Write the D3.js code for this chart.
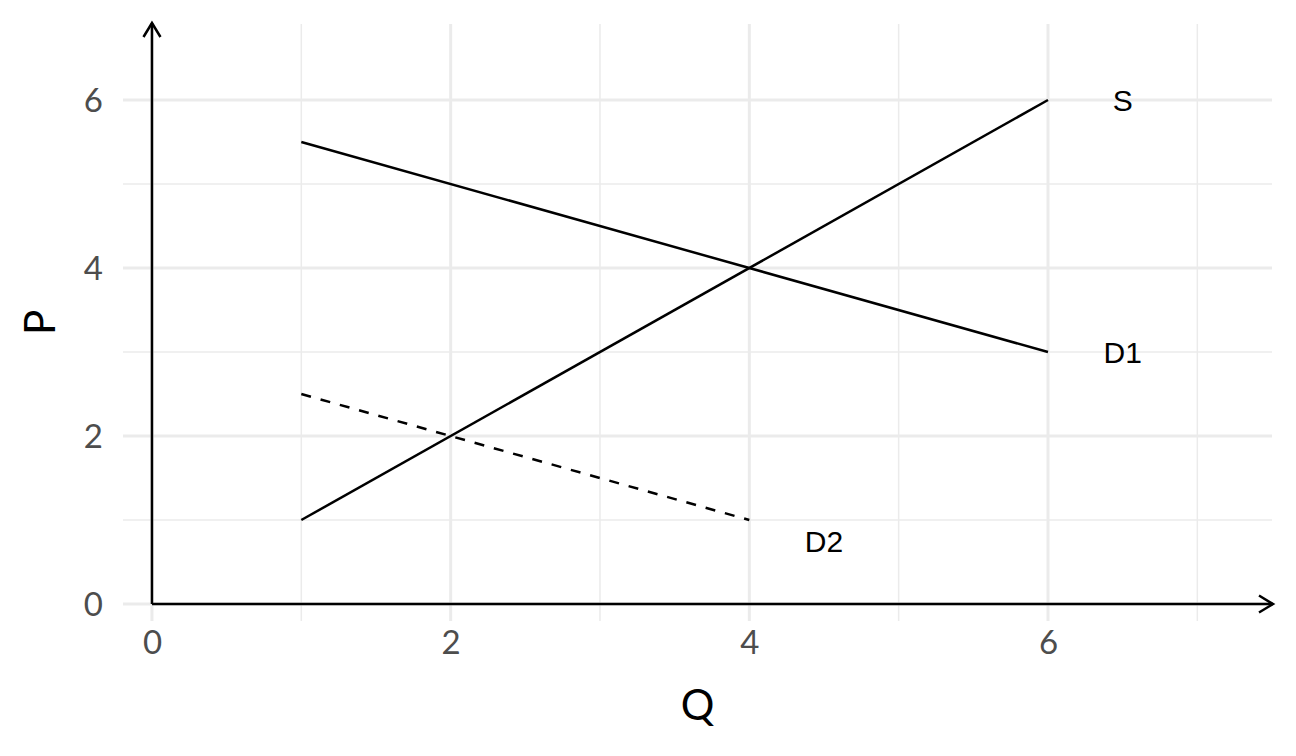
<!DOCTYPE html>
<html><head><meta charset="utf-8">
<script src="https://cdn.jsdelivr.net/npm/d3@7"></script>
<style>body{margin:0;background:#fff}svg{display:block}</style>
</head><body>
<svg id="c" width="1296" height="756"></svg>
<script>
const majorTicks = [0, 2, 4, 6];
const xMinor = [1, 3, 5, 7];
const yMinor = [1, 3, 5];
const supply = [{q:1,p:1},{q:6,p:6}];
const demand1 = [{q:1,p:5.5},{q:6,p:3}];
const demand2 = [{q:1,p:2.5},{q:4,p:1}];
const labels = [{t:"S",q:6.5,p:6},{t:"D1",q:6.5,p:3},{t:"D2",q:4.5,p:0.75}];

const svg = d3.select("#c");
const L=123,R=1272,T=24,B=621;
const x = d3.scaleLinear().domain([-0.194,7.5]).range([L,R]);
const y = d3.scaleLinear().domain([-0.202,6.905]).range([B,T]);
const g = svg.append("g");
// grid
g.selectAll(".vmin").data(xMinor).join("line").attr("x1",d=>x(d)).attr("x2",d=>x(d)).attr("y1",T).attr("y2",B).attr("stroke","#ebebeb").attr("stroke-width",1.5);
g.selectAll(".hmin").data(yMinor).join("line").attr("y1",d=>y(d)).attr("y2",d=>y(d)).attr("x1",L).attr("x2",R).attr("stroke","#ebebeb").attr("stroke-width",1.5);
g.selectAll(".vmaj").data(majorTicks).join("line").attr("x1",d=>x(d)).attr("x2",d=>x(d)).attr("y1",T).attr("y2",B).attr("stroke","#ebebeb").attr("stroke-width",3);
g.selectAll(".hmaj").data(majorTicks).join("line").attr("y1",d=>y(d)).attr("y2",d=>y(d)).attr("x1",L).attr("x2",R).attr("stroke","#ebebeb").attr("stroke-width",3);

// axes with arrows
const defs = svg.append("defs");
defs.append("marker").attr("id","arr").attr("viewBox","0 0 20 20").attr("refX",17).attr("refY",10)
 .attr("markerWidth",20).attr("markerHeight",20).attr("markerUnits","userSpaceOnUse").attr("orient","auto")
 .append("path").attr("d","M3,1.5 L17,10 L3,18.5").attr("fill","none").attr("stroke","#000").attr("stroke-width",2.5);
svg.append("line").attr("x1",x(0)).attr("y1",y(0)).attr("x2",x(0)).attr("y2",T-1).attr("stroke","#000").attr("stroke-width",2.5).attr("marker-end","url(#arr)");
svg.append("line").attr("x1",x(0)).attr("y1",y(0)).attr("x2",R+1).attr("y2",y(0)).attr("stroke","#000").attr("stroke-width",2.5).attr("marker-end","url(#arr)");

// tick labels
const xAxis = d3.axisBottom(x).tickValues(majorTicks).tickSize(0).tickPadding(0);
const xa = svg.append("g").attr("transform",`translate(0,${B+10})`).call(xAxis);
xa.select(".domain").remove();
xa.selectAll("text").attr("font-family","Lato").attr("font-size",33).attr("fill","#4d4d4d").attr("dy","0.71em");
const yAxis = d3.axisLeft(y).tickValues(majorTicks).tickSize(0).tickPadding(0);
const ya = svg.append("g").attr("transform",`translate(${L-20},0)`).call(yAxis);
ya.select(".domain").remove();
ya.selectAll("text").attr("font-family","Lato").attr("font-size",33).attr("fill","#4d4d4d").attr("dy","0.36em");

// lines
const line = d3.line().x(d=>x(d.q)).y(d=>y(d.p));
svg.append("path").attr("d",line(supply)).attr("fill","none").attr("stroke","#000").attr("stroke-width",2.5);
svg.append("path").attr("d",line(demand1)).attr("fill","none").attr("stroke","#000").attr("stroke-width",2.5);
svg.append("path").attr("d",line(demand2)).attr("fill","none").attr("stroke","#000").attr("stroke-width",2.5).attr("stroke-dasharray","10,10");

svg.selectAll(".lab").data(labels).join("text").attr("x",d=>x(d.q)).attr("y",d=>y(d.p)).attr("dy","0.36em")
 .attr("text-anchor","middle").attr("font-family","Liberation Sans").attr("font-size",30).attr("fill","#000").text(d=>d.t);

svg.append("text").attr("x",(L+R)/2).attr("y",720).attr("text-anchor","middle").attr("font-family","Lato").attr("font-size",42).text("Q");
svg.append("text").attr("transform",`translate(55,${(T+B)/2}) rotate(-90)`).attr("text-anchor","middle").attr("font-family","Lato").attr("font-size",42).text("P");
</script>
</body></html>
